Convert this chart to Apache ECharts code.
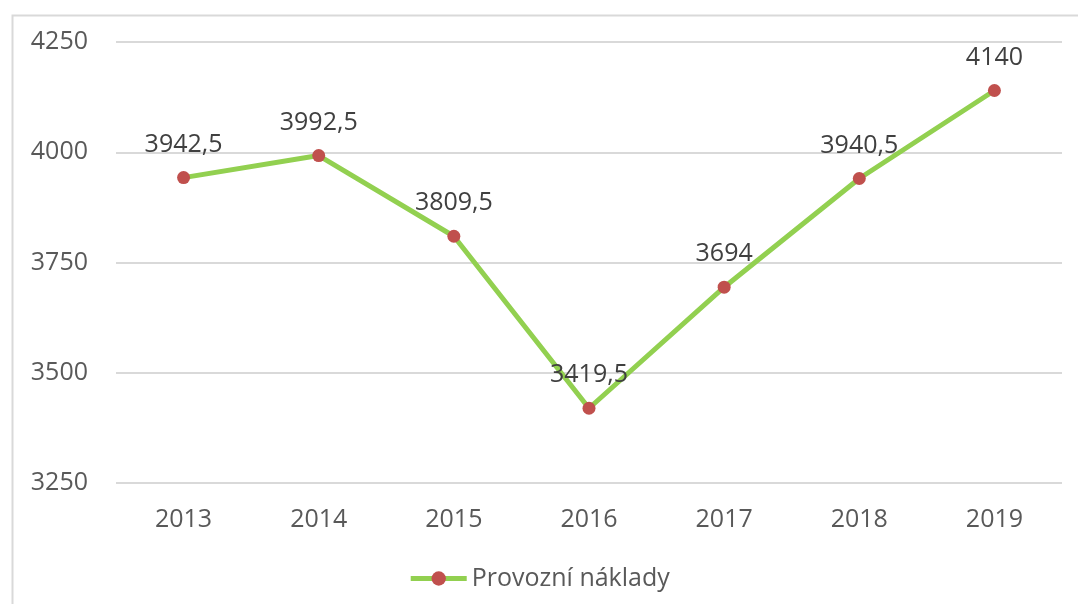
<!DOCTYPE html>
<html>
<head>
<meta charset="utf-8">
<script src="https://cdn.jsdelivr.net/npm/echarts@6/dist/echarts.min.js"></script>
<style>html,body{margin:0;padding:0;background:#fff;}#c{width:1078px;height:604px;}</style>
</head>
<body>
<div id="c"></div>
<script>
const categories = ['2013','2014','2015','2016','2017','2018','2019'];
const values = [3942.5, 3992.5, 3809.5, 3419.5, 3694, 3940.5, 4140];
const seriesName = 'Provozní náklady';
const yTicks = [3250, 3500, 3750, 4000, 4250];

const FONT = '"Open Sans", sans-serif';
const chart = echarts.init(document.getElementById('c'), null, {renderer: 'canvas'});
chart.setOption({
  backgroundColor: '#fff',
  animation: false,
  graphic: [{
    type: 'rect', left: 10, top: 13, silent: true,
    shape: {width: 1200, height: 700},
    style: {fill: 'none', stroke: '#d9d9d9', lineWidth: 2}
  }],
  grid: {left: 116, right: 16, top: 42, bottom: 121, containLabel: false},
  xAxis: {
    type: 'category', data: categories, boundaryGap: true,
    axisLine: {show: false}, axisTick: {show: false},
    axisLabel: {color: '#595959', fontSize: 25, fontFamily: FONT, margin: 24}
  },
  yAxis: {
    type: 'value', min: yTicks[0], max: yTicks[yTicks.length-1], interval: 250,
    axisLine: {show: false}, axisTick: {show: false},
    axisLabel: {color: '#595959', fontSize: 25, fontFamily: FONT, margin: 28,
      formatter: v => String(v)},
    splitLine: {lineStyle: {color: '#d9d9d9', width: 2}}
  },
  legend: {
    data: [seriesName], bottom: 8, left: 'center',
    itemWidth: 56, itemHeight: 18, itemGap: 5,
    lineStyle: {width: 5},
    textStyle: {color: '#595959', fontSize: 25, fontFamily: FONT}
  },
  series: [{
    name: seriesName, type: 'line', data: values,
    symbol: 'circle', symbolSize: 13,
    lineStyle: {color: '#92D050', width: 5},
    itemStyle: {color: '#C0504D'},
    label: {
      show: true, position: 'top', distance: 14,
      color: '#404040', fontSize: 25, fontFamily: FONT,
      formatter: p => String(p.value).replace('.', ',')
    }
  }]
});
</script>
</body>
</html>
